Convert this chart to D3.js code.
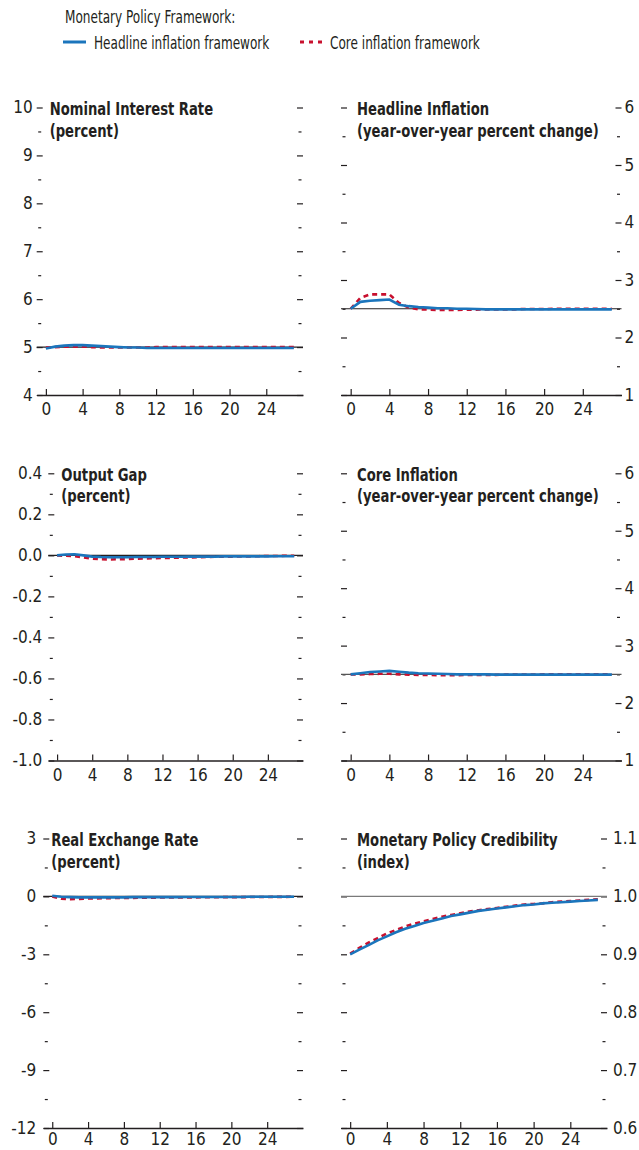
<!DOCTYPE html>
<html>
<head>
<meta charset="utf-8">
<script src="https://cdn.jsdelivr.net/npm/d3@7"></script>
<style>
  body { margin: 0; background: #ffffff; }
  text { font-family: "Liberation Sans Narrow", "DejaVu Sans Condensed", sans-serif; fill: #231f20; }
  .tick text { font-size: 17px; }
  .ttl { font-size: 17px; font-weight: bold; }
  .leg { font-size: 17px; }
</style>
</head>
<body>
<svg id="mainsvg" width="639" height="1150"></svg>
<script>
  // quarters after the shock
  const quarters = [0, 1, 2, 3, 4, 5, 6, 7, 8, 9, 10, 11, 12, 13, 14, 15, 16, 17, 18, 19, 20, 21, 22, 23, 24, 25, 26, 27];
  const xTicks = [0, 4, 8, 12, 16, 20, 24];

  const seriesNames = ["Headline inflation framework", "Core inflation framework"];

  // Nominal interest rate (percent)
  const rateHeadline = [4.97, 5.01, 5.03, 5.04, 5.04, 5.03, 5.02, 5.01, 5.00, 4.99, 4.99, 4.98, 4.98, 4.98, 4.98, 4.98, 4.98, 4.98, 4.98, 4.98, 4.98, 4.98, 4.98, 4.98, 4.98, 4.98, 4.98, 4.98];
  const rateCore = [4.99, 5.00, 5.01, 5.01, 5.01, 5.00, 4.99, 4.99, 4.99, 4.99, 4.99, 4.99, 5.00, 5.00, 5.00, 5.00, 5.00, 5.00, 5.00, 5.00, 5.00, 5.00, 5.00, 5.00, 5.00, 5.00, 5.00, 5.00];
  const rateTicks = [4, 5, 6, 7, 8, 9, 10];

  // Headline inflation (y/y percent change)
  const headHeadline = [2.50, 2.62, 2.64, 2.65, 2.66, 2.57, 2.545, 2.53, 2.52, 2.51, 2.51, 2.50, 2.50, 2.495, 2.49, 2.49, 2.49, 2.49, 2.49, 2.49, 2.49, 2.49, 2.49, 2.49, 2.49, 2.49, 2.49, 2.49];
  const headCore = [2.50, 2.69, 2.75, 2.75, 2.75, 2.60, 2.52, 2.49, 2.485, 2.48, 2.48, 2.48, 2.485, 2.485, 2.49, 2.49, 2.49, 2.49, 2.495, 2.495, 2.495, 2.50, 2.50, 2.50, 2.50, 2.50, 2.50, 2.50];
  const inflTicks = [1, 2, 3, 4, 5, 6];

  // Output gap (percent)
  const gapHeadline = [0.000, 0.004, 0.005, 0.000, -0.006, -0.008, -0.009, -0.009, -0.009, -0.008, -0.008, -0.008, -0.007, -0.007, -0.007, -0.006, -0.006, -0.006, -0.006, -0.005, -0.005, -0.005, -0.005, -0.005, -0.005, -0.004, -0.004, -0.004];
  const gapCore = [0.000, -0.002, -0.004, -0.010, -0.016, -0.019, -0.020, -0.019, -0.018, -0.016, -0.015, -0.014, -0.013, -0.012, -0.011, -0.010, -0.009, -0.008, -0.007, -0.007, -0.006, -0.005, -0.005, -0.004, -0.003, -0.003, -0.002, -0.002];
  const gapTicks = [-1.0, -0.8, -0.6, -0.4, -0.2, 0.0, 0.2, 0.4];

  // Core inflation (y/y percent change)
  const coreHeadline = [2.50, 2.52, 2.54, 2.55, 2.56, 2.545, 2.53, 2.52, 2.515, 2.51, 2.505, 2.50, 2.50, 2.50, 2.50, 2.495, 2.495, 2.495, 2.495, 2.495, 2.495, 2.495, 2.495, 2.495, 2.495, 2.495, 2.495, 2.495];
  const coreCore = [2.50, 2.50, 2.505, 2.51, 2.51, 2.50, 2.495, 2.49, 2.49, 2.485, 2.485, 2.485, 2.49, 2.49, 2.49, 2.49, 2.495, 2.495, 2.495, 2.495, 2.50, 2.50, 2.50, 2.50, 2.50, 2.50, 2.50, 2.50];

  // Real exchange rate (percent)
  const rerHeadline = [0.03, -0.02, -0.04, -0.05, -0.05, -0.05, -0.05, -0.05, -0.05, -0.04, -0.04, -0.04, -0.04, -0.04, -0.04, -0.03, -0.03, -0.03, -0.03, -0.03, -0.03, -0.03, -0.02, -0.02, -0.02, -0.02, -0.02, -0.02];
  const rerCore = [0.00, -0.12, -0.14, -0.13, -0.11, -0.10, -0.09, -0.085, -0.08, -0.075, -0.07, -0.065, -0.06, -0.06, -0.055, -0.05, -0.05, -0.045, -0.045, -0.04, -0.04, -0.035, -0.035, -0.03, -0.03, -0.025, -0.025, -0.02];
  const rerTicks = [-12, -9, -6, -3, 0, 3];

  // Monetary policy credibility (index)
  const credHeadline = [0.900, 0.908, 0.916, 0.924, 0.931, 0.938, 0.944, 0.949, 0.954, 0.958, 0.962, 0.966, 0.969, 0.972, 0.975, 0.977, 0.979, 0.981, 0.983, 0.985, 0.986, 0.988, 0.989, 0.990, 0.991, 0.992, 0.993, 0.994];
  const credCore = [0.901, 0.911, 0.920, 0.928, 0.936, 0.942, 0.948, 0.953, 0.957, 0.961, 0.965, 0.968, 0.971, 0.974, 0.976, 0.978, 0.980, 0.982, 0.984, 0.986, 0.987, 0.988, 0.990, 0.991, 0.992, 0.993, 0.994, 0.995];
  const credTicks = [0.6, 0.7, 0.8, 0.9, 1.0, 1.1];

  const blue = "#1b75bc";
  const red = "#c8102e";

  const panels = [
    { title: "Nominal Interest Rate", sub: "(percent)", ticks: rateTicks, fmt: d => String(d), side: "left", ref: 5, a: rateHeadline, b: rateCore,
      x0: 36.7, x1: 303, row: 0, titleDx: 13, pad: 4, refColor: "#231f20" },
    { title: "Headline Inflation", sub: "(year-over-year percent change)", ticks: inflTicks, fmt: d => String(d), side: "right", ref: 2.5, a: headHeadline, b: headCore,
      x0: 341, x1: 621.5, row: 0, titleDx: 16, pad: 3, refColor: "#231f20" },
    { title: "Output Gap", sub: "(percent)", ticks: gapTicks, fmt: d => d.toFixed(1), side: "left", ref: 0, a: gapHeadline, b: gapCore,
      x0: 48.3, x1: 303, row: 1, titleDx: 13, pad: 6, refColor: "#231f20" },
    { title: "Core Inflation", sub: "(year-over-year percent change)", ticks: inflTicks, fmt: d => String(d), side: "right", ref: 2.5, a: coreHeadline, b: coreCore,
      x0: 341, x1: 621.5, row: 1, titleDx: 16, pad: 3, refColor: "#555555" },
    { title: "Real Exchange Rate", sub: "(percent)", ticks: rerTicks, fmt: d => String(d), side: "left", ref: 0, a: rerHeadline, b: rerCore,
      x0: 43.3, x1: 303, row: 2, titleDx: 8, pad: 7, refColor: "#231f20" },
    { title: "Monetary Policy Credibility", sub: "(index)", ticks: credTicks, fmt: d => d.toFixed(1), side: "right", ref: 1.0, a: credHeadline, b: credCore,
      x0: 341, x1: 607, row: 2, titleDx: 16, pad: 6, refColor: "#7a7a7a" }
  ];

  const rowTop = [107.5, 473.3, 838.5];
  const rowBottom = [395, 760.5, 1128];
  const rowLabelPad = [8, 8, 5];

  const svg = d3.select("#mainsvg");

  // condense a text run horizontally to look like the narrow face of the original
  const squeeze = (sel, f) => sel.each(function () {
    const len = this.getComputedTextLength();
    d3.select(this).attr("textLength", len * f).attr("lengthAdjust", "spacingAndGlyphs");
  });

  // legend
  const legend = svg.append("g");
  legend.append("text").attr("class", "leg").attr("x", 65).attr("y", 23).text("Monetary Policy Framework:");
  legend.append("line").attr("x1", 63).attr("x2", 86).attr("y1", 42).attr("y2", 42)
    .attr("stroke", blue).attr("stroke-width", 3);
  legend.append("text").attr("class", "leg").attr("x", 94).attr("y", 48.5).text(seriesNames[0]);
  legend.append("line").attr("x1", 300).attr("x2", 324).attr("y1", 42).attr("y2", 42)
    .attr("stroke", red).attr("stroke-width", 3).attr("stroke-dasharray", "4,5");
  legend.append("text").attr("class", "leg").attr("x", 330).attr("y", 48.5).text(seriesNames[1]);
  squeeze(legend.selectAll("text"), 0.79);

  const midpoints = arr => arr.slice(1).map((d, i) => (d + arr[i]) / 2);

  panels.forEach(p => {
    const top = rowTop[p.row], bottom = rowBottom[p.row];
    const x = d3.scaleLinear().domain([-1, 28]).range([p.x0, p.x1]);
    const y = d3.scaleLinear().domain(d3.extent(p.ticks)).range([bottom, top]);
    const g = svg.append("g");
    const minors = midpoints(p.ticks);

    // inward ticks on both sides
    const majL = g.append("g").attr("transform", `translate(${p.x0},0)`)
      .call(d3.axisRight(y).tickValues(p.ticks).tickSize(6).tickFormat(""));
    const minL = g.append("g").attr("transform", `translate(${p.x0 + 1.5},0)`)
      .call(d3.axisRight(y).tickValues(minors).tickSize(3).tickFormat(""));
    const majR = g.append("g").attr("transform", `translate(${p.x1},0)`)
      .call(d3.axisLeft(y).tickValues(p.ticks).tickSize(6).tickFormat(""));
    const minR = g.append("g").attr("transform", `translate(${p.x1 - 1.5},0)`)
      .call(d3.axisLeft(y).tickValues(minors).tickSize(3).tickFormat(""));
    [majL, minL, majR, minR].forEach(a => {
      a.select(".domain").remove();
      a.selectAll(".tick line").attr("stroke", "#231f20").attr("stroke-width", 1.2);
    });

    // tick labels
    const labAxis = p.side === "left"
      ? d3.axisLeft(y).tickValues(p.ticks).tickSize(0).tickPadding(p.pad).tickFormat(p.fmt)
      : d3.axisRight(y).tickValues(p.ticks).tickSize(0).tickPadding(p.pad).tickFormat(p.fmt);
    const lab = g.append("g").attr("transform", `translate(${p.side === "left" ? p.x0 : p.x1},0)`).call(labAxis);
    lab.select(".domain").remove();

    // reference line
    g.append("line").attr("x1", p.x0).attr("x2", p.x1).attr("y1", y(p.ref)).attr("y2", y(p.ref))
      .attr("stroke", p.refColor).attr("stroke-width", 1.2);

    // x axis
    const xa = g.append("g").attr("transform", `translate(0,${bottom})`)
      .call(d3.axisBottom(x).tickValues(xTicks).tickSize(-6).tickSizeOuter(0).tickPadding(rowLabelPad[p.row]));
    xa.select(".domain").attr("stroke", "#231f20").attr("stroke-width", 1.3);
    xa.selectAll(".tick line").attr("stroke", "#231f20").attr("stroke-width", 1.2);

    // series
    const line = d3.line().x((d, i) => x(quarters[i])).y(d => y(d));
    g.append("path").datum(p.b).attr("d", line).attr("fill", "none")
      .attr("stroke", red).attr("stroke-width", 2.6).attr("stroke-dasharray", "5,4");
    g.append("path").datum(p.a).attr("d", line).attr("fill", "none")
      .attr("stroke", blue).attr("stroke-width", 2.6);

    // title
    const t = g.append("text").attr("class", "ttl").attr("x", p.x0 + p.titleDx).attr("y", top + 7.5);
    t.append("tspan").attr("x", p.x0 + p.titleDx).text(p.title);
    t.append("tspan").attr("x", p.x0 + p.titleDx).attr("dy", 21.5).text(p.sub);
    squeeze(t.selectAll("tspan"), 0.86);
  });
</script>
</body>
</html>
